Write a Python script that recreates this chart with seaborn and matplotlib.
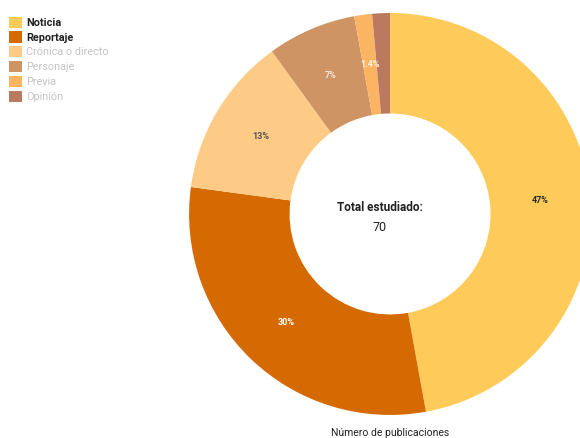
import matplotlib
matplotlib.use("Agg")
import matplotlib.pyplot as plt
import seaborn as sns
import numpy as np
from matplotlib.patches import Patch

sns.set_theme(style="white")
plt.rcParams['font.family'] = ['Roboto', 'DejaVu Sans']

# datos
categorias = ["Noticia", "Reportaje", "Crónica o directo", "Personaje", "Previa", "Opinión"]
publicaciones = [33, 21, 9, 5, 1, 1]
etiquetas = ["47%", "30%", "13%", "7%", "1.4%", ""]
colores = ["#FECB5A", "#D56A02", "#FDCB86", "#CE9463", "#FBB462", "#BB7A60"]
color_etiqueta = ["#2b2b2b", "#ffffff", "#555555", "#f3e6da", "#fff3e0", "#ffffff"]
total = sum(publicaciones)

fig = plt.figure(figsize=(5.8, 4.38), dpi=100)
ax = fig.add_axes([0.326, 0.0525, 0.693, 0.918])

wedges, _ = ax.pie(publicaciones, colors=colores, startangle=90, counterclock=False,
                   radius=1.0, wedgeprops=dict(width=0.5, linewidth=0))
ax.set_xlim(-1, 1)
ax.set_ylim(-1, 1)
ax.set_aspect("equal")
ax.axis("off")

for w, txt, c in zip(wedges, etiquetas, color_etiqueta):
    ang = np.deg2rad((w.theta1 + w.theta2) / 2)
    ax.text(0.75 * np.cos(ang), 0.75 * np.sin(ang), txt, ha="center", va="center",
            fontsize=6.5, fontweight="bold", color=c)

ax.text(-0.05, 0.03, "Total estudiado:", ha="center", va="center",
        fontsize=8.5, fontweight="bold", color="#222222")
ax.text(-0.05, -0.065, str(total), ha="center", va="center", fontsize=9, color="#222222")

fig.text(0.672, 0.012, "Número de publicaciones", ha="center", va="center",
         fontsize=7.5, color="#222222")

handles = [Patch(facecolor=c, edgecolor="none") for c in colores]
leg = fig.legend(handles, categorias, loc="upper left", bbox_to_anchor=(0.015, 0.962),
                 frameon=False, fontsize=7.8, handlelength=1.2, handleheight=1.2,
                 labelspacing=0.33, handletextpad=0.4, borderaxespad=0, borderpad=0)
for i, t in enumerate(leg.get_texts()):
    if i < 2:
        t.set_color("#222222")
        t.set_fontweight("bold")
    else:
        t.set_color("#c4c4c4")

fig.savefig("out.png", dpi=100)
